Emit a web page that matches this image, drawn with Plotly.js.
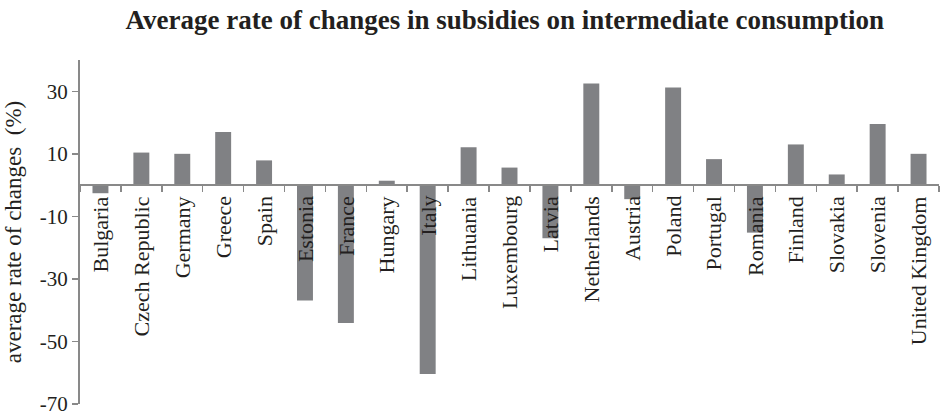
<!DOCTYPE html>
<html>
<head>
<meta charset="utf-8">
<script src="https://cdn.plot.ly/plotly-3.0.1.min.js"></script>
<style>html,body{margin:0;padding:0;background:#fff;}#chart{width:940px;height:416px;}</style>
</head>
<body>
<div id="chart"></div>
<script>
const countries = ["Bulgaria","Czech Republic","Germany","Greece","Spain","Estonia","France","Hungary","Italy","Lithuania","Luxembourg","Latvia","Netherlands","Austria","Poland","Portugal","Romania","Finland","Slovakia","Slovenia","United Kingdom"];
const rates = [-2.6,10.4,10.0,17.0,7.9,-36.9,-44.1,1.4,-60.4,12.1,5.6,-17.0,32.5,-4.5,31.2,8.3,-15.2,13.0,3.4,19.5,10.0];
const yTicks = [-70,-50,-30,-10,10,30];
const yRange = [-70,40];

const font = "Liberation Serif";
const zeroPos = (0 - yRange[0]) / (yRange[1] - yRange[0]);

const trace = {
  type: "bar",
  x: countries,
  y: rates,
  marker: {color: "#808184", line: {width: 0}},
  hoverinfo: "x+y"
};

const annotations = countries.map(c => ({
  x: c, y: 0, xref: "x", yref: "y",
  text: c, textangle: -90, showarrow: false,
  xanchor: "center", yanchor: "top", yshift: -9,
  font: {family: font, size: 22, color: "#231f20"}
}));

const layout = {
  width: 940, height: 416,
  margin: {l: 80, r: 1, t: 60, b: 12},
  paper_bgcolor: "#fff", plot_bgcolor: "#fff",
  bargap: 0.61,
  showlegend: false,
  title: {text: "<b>Average rate of changes in subsidies on intermediate consumption</b>",
          font: {family: font, size: 27, color: "#231f20"}, x: 0.537, xanchor: "center", y: 0.952, yanchor: "middle"},
  xaxis: {
    type: "category", range: [-0.5, countries.length - 0.5],
    anchor: "free", position: zeroPos,
    showticklabels: false, showgrid: false, zeroline: false,
    showline: true, linecolor: "#898989", linewidth: 2,
    ticks: "outside", tickson: "boundaries", ticklen: 6, tickcolor: "#898989", tickwidth: 1.5
  },
  yaxis: {
    range: yRange, tickvals: yTicks, ticktext: yTicks.map(String),
    showgrid: false, zeroline: false,
    showline: true, linecolor: "#898989", linewidth: 2,
    ticks: "outside", ticklen: 6, tickcolor: "#898989", tickwidth: 1.5,
    ticklabeloverflow: "allow",
    tickfont: {family: font, size: 21, color: "#231f20"},
    title: {text: "average rate of changes  (%)", font: {family: font, size: 23, color: "#231f20"}, standoff: 12}
  },
  annotations: annotations
};

Plotly.newPlot("chart", [trace], layout, {staticPlot: true, displayModeBar: false});
</script>
</body>
</html>
